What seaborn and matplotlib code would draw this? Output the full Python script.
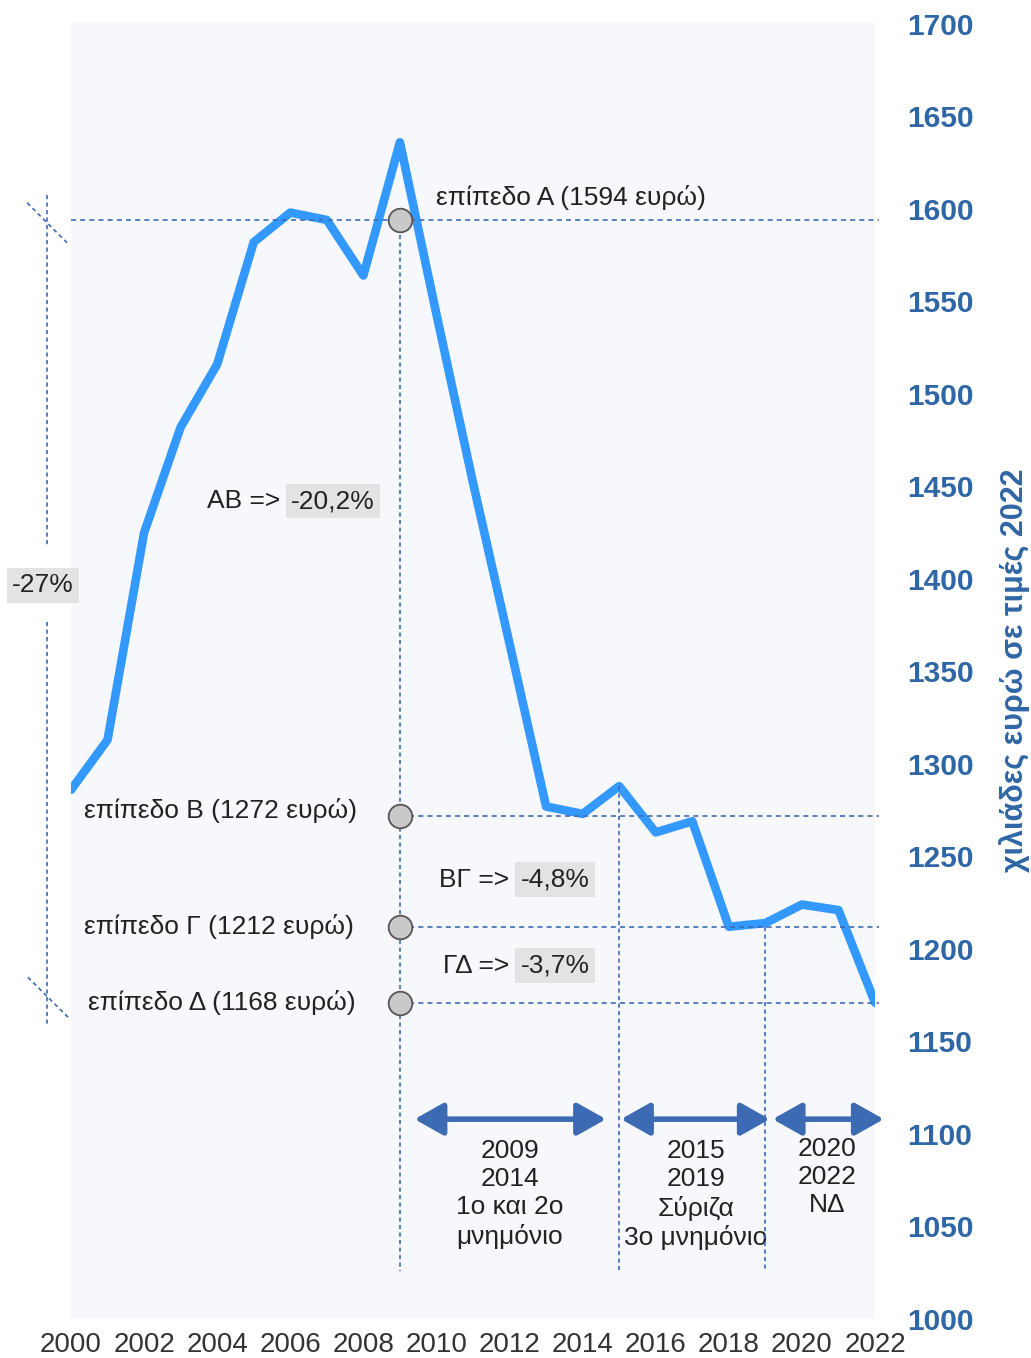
import numpy as np
import pandas as pd
import matplotlib.pyplot as plt
import seaborn as sns

# δεδομένα (χιλιάδες ευρώ, τιμές 2022)
years = list(range(2000, 2023))
income = [1286, 1313, 1425, 1482, 1516, 1582, 1598, 1594, 1564, 1636, 1543, 1452,
          1365, 1277, 1273, 1288, 1263, 1269, 1212, 1214, 1224, 1221, 1171]

level_names = ["A", "B", "Γ", "Δ"]
level_values = [1594, 1272, 1212, 1168]
level_lines = [1594, 1272, 1212, 1171]

change_names = ["AB =>", "ΒΓ =>", "ΓΔ =>"]
change_values = ["-20,2%", "-4,8%", "-3,7%"]
total_change = "-27%"

periods = [(2009.4, 2014.64), (2015.05, 2019.12), (2019.2, 2022.24)]
period_texts = ["2009\n2014\n1ο και 2ο\nμνημόνιο",
                "2015\n2019\nΣύριζα\n3ο μνημόνιο",
                "2020\n2022\nΝΔ"]
ylabel = "χιλιάδες ευρώ σε τιμές 2022"

df = pd.DataFrame({"year": years, "income": income})

sns.set_style("white")
plt.rcParams['font.family'] = ['Liberation Sans', 'DejaVu Sans']

line_c = "#3399ff"
dash_c = "#3d6cb4"
axis_c = "#2f66a5"
arrow_c = "#3c6ab3"
box_c = "#e3e3e3"
txt_c = "#222222"
dash = (0, (3, 2.5))
dot = (0, (2.5, 2))
fs = 19

fig = plt.figure(figsize=(10.31, 13.58), dpi=100)
ax = fig.add_axes([71 / 1031, 1 - 1319 / 1358, 804 / 1031, 1297 / 1358])
ax.set_facecolor("#f7f8fc")

# κύρια γραμμή
sns.lineplot(data=df, x="year", y="income", color=line_c, linewidth=6.2, ax=ax, zorder=3)

# οριζόντιες γραμμές επιπέδων
ax.plot([2000, 2022.1], [level_lines[0]] * 2, ls=dash, color=dash_c, lw=1.2, zorder=4, clip_on=False)
for v in level_lines[1:]:
    ax.plot([2009, 2022.1], [v, v], ls=dash, color=dash_c, lw=1.2, zorder=4, clip_on=False)

# κάθετες γραμμές περιόδων
ax.plot([2009, 2009], [level_lines[0], 1026], ls=dot, color=dash_c, lw=1.2, zorder=4)
ax.plot([2015, 2015], [income[15], 1026], ls=dot, color=dash_c, lw=1.2, zorder=4)
ax.plot([2019, 2019], [level_lines[2], 1026], ls=dot, color=dash_c, lw=1.2, zorder=4)

# κύκλοι
ax.plot([2009] * 4, level_lines, "o", ms=17, mfc="#c9c9c9", mec="#555555", mew=1.3, zorder=5)

# κείμενα επιπέδων
ax.text(2009.98, 1606, f"επίπεδο {level_names[0]} ({level_values[0]} ευρώ)", fontsize=fs,
        color=txt_c, va="center", ha="left", zorder=6)
lx = [2000.35, 2000.35, 2000.47]
ly = [1275, 1212, 1171]
for i in range(1, 4):
    ax.text(lx[i - 1], ly[i - 1], f"επίπεδο {level_names[i]} ({level_values[i]} ευρώ)",
            fontsize=fs, color=txt_c, va="center", ha="left", zorder=6)

# ποσοστά μεταβολής
cx = [2005.72, 2012.0, 2012.0]
cy = [1442, 1237.5, 1191]
for i in range(3):
    ax.text(cx[i], cy[i], change_names[i], fontsize=fs, color=txt_c, va="center", ha="right")
    ax.text(cx[i] + 0.3, cy[i], change_values[i], fontsize=fs, color=txt_c, va="center",
            ha="left", bbox=dict(boxstyle="square,pad=0.2", fc=box_c, ec="none"))

# -27% αγκύλη αριστερά
bx = 1999.34
ax.plot([bx, bx], [1607.6, 1417], ls=dot, color=dash_c, lw=1.2, clip_on=False)
ax.plot([bx, bx], [1376.5, 1157.7], ls=dot, color=dash_c, lw=1.2, clip_on=False)
ax.plot([1998.8, 1999.89], [1603.3, 1581.7], ls=dot, color=dash_c, lw=1.2, clip_on=False)
ax.plot([1998.82, 1999.92], [1184.7, 1163.1], ls=dot, color=dash_c, lw=1.2, clip_on=False)
ax.text(1998.38, 1396.5, total_change, fontsize=fs, color=txt_c, va="center", ha="left",
        bbox=dict(boxstyle="square,pad=0.2", fc=box_c, ec="none"))

# βέλη περιόδων
for (x0, x1) in periods:
    ax.annotate("", xy=(x1, 1108), xytext=(x0, 1108), annotation_clip=False,
                arrowprops=dict(arrowstyle="<|-|>,head_length=0.8,head_width=0.45", color=arrow_c,
                                lw=4, mutation_scale=22, shrinkA=0, shrinkB=0))
ax.text(2012.0, 1097.3, period_texts[0], fontsize=fs, color=txt_c, ha="center", va="top", linespacing=1.22)
ax.text(2017.1, 1097.3, period_texts[1], fontsize=fs, color=txt_c, ha="center", va="top", linespacing=1.22)
ax.text(2020.7, 1098.3, period_texts[2], fontsize=fs, color=txt_c, ha="center", va="top", linespacing=1.22)

# άξονες
ax.set_xlim(2000, 2022)
ax.set_ylim(1000, 1701)
ax.set_xticks(range(2000, 2023, 2))
ax.set_yticks(range(1000, 1701, 50))
ax.tick_params(axis="x", length=0, pad=9, labelsize=20, labelcolor="#333333")
ax.tick_params(axis="y", length=0, pad=23, labelsize=21.5, labelcolor=axis_c,
               left=False, labelleft=False, right=False, labelright=True)
for lab in ax.get_yticklabels():
    lab.set_fontweight("bold")
ax.yaxis.set_label_position("right")
ax.set_ylabel(ylabel, fontsize=22, fontweight="bold", color=axis_c, labelpad=18)
ax.set_xlabel("")
sns.despine(ax=ax, left=True, bottom=True, right=True, top=True)

plt.savefig("out.png", dpi=100)
